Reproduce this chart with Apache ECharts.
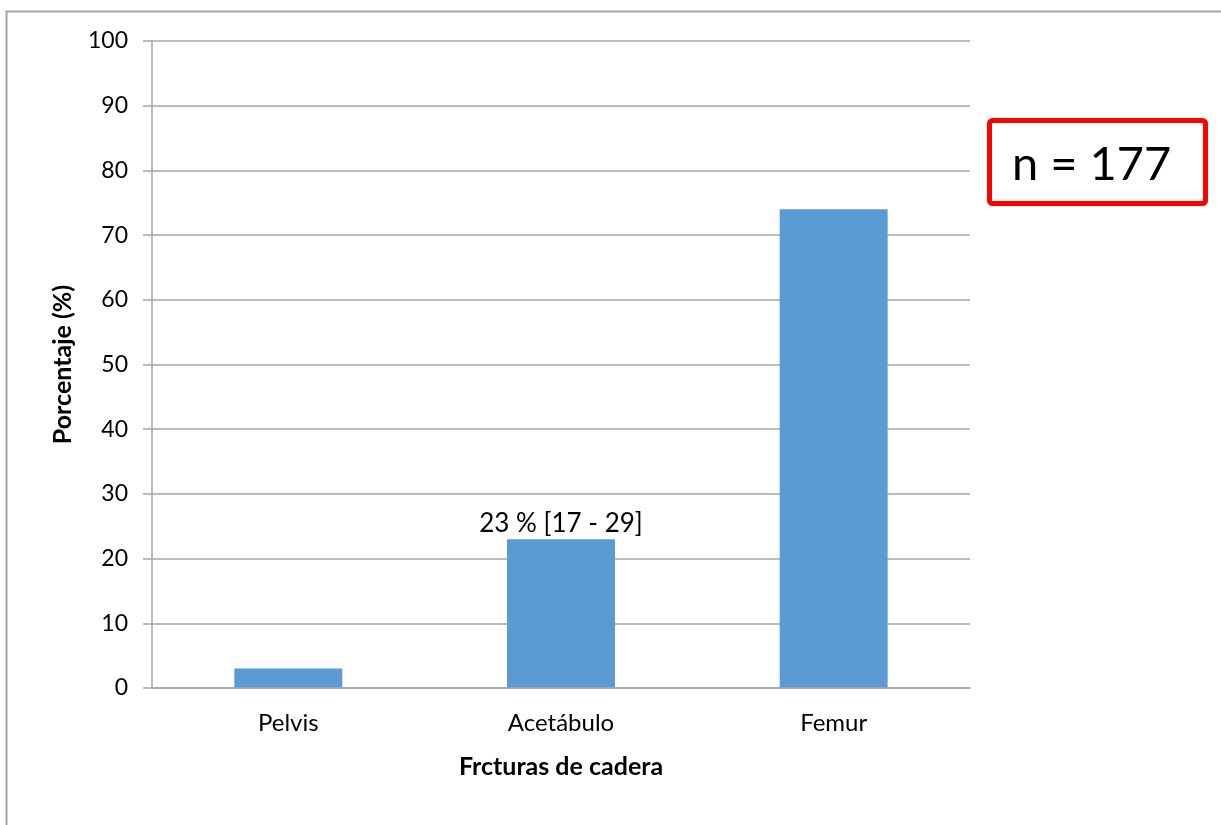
<!DOCTYPE html>
<html>
<head>
<meta charset="utf-8">
<script src="https://cdn.jsdelivr.net/npm/echarts@6/dist/echarts.min.js"></script>
<style>
  html, body { margin: 0; padding: 0; background: #fff; }
  #chart { width: 1221px; height: 825px; }
</style>
</head>
<body>
<div id="chart"></div>
<script>
// datos del grafico
var categorias = ['Pelvis', 'Acetábulo', 'Femur'];
var porcentajes = [3, 23, 74];
var etiquetas = ['', '23 % [17 - 29]', ''];
var yTicks = [0, 10, 20, 30, 40, 50, 60, 70, 80, 90, 100];
var nTotal = 'n = 177';

var FONT = 'Lato, "Open Sans", sans-serif';
var GRIS = '#a6a6a6';

var chart = echarts.init(document.getElementById('chart'));

var serieData = porcentajes.map(function (v, i) {
  var item = { value: v };
  if (etiquetas[i]) {
    item.label = {
      show: true,
      position: 'top',
      distance: 3,
      formatter: etiquetas[i],
      color: '#000',
      fontFamily: FONT,
      fontSize: 26
    };
  }
  return item;
});

var option = {
  backgroundColor: '#fff',
  animation: false,
  grid: { left: 152, right: 251, top: 41, bottom: 137, containLabel: false },
  graphic: [
    // marco exterior
    {
      type: 'rect',
      shape: { x: 6.5, y: 11.5, width: 1300, height: 900 },
      style: { fill: 'none', stroke: '#a6a6a6', lineWidth: 2 }
    },
    // recuadro rojo n
    {
      type: 'rect',
      shape: { x: 989.5, y: 120.5, width: 216, height: 83, r: 3 },
      style: { fill: '#fff', stroke: '#ff0000', lineWidth: 5 }
    },
    {
      type: 'text',
      left: 1012,
      top: 141,
      style: { text: nTotal, fill: '#000', font: '47px ' + FONT }
    }
  ],
  xAxis: {
    type: 'category',
    data: categorias,
    name: 'Frcturas de cadera',
    nameLocation: 'middle',
    nameGap: 66,
    nameTextStyle: { color: '#000', fontFamily: FONT, fontSize: 25, fontWeight: 'bold' },
    axisLine: { lineStyle: { color: GRIS, width: 1.5 } },
    axisTick: { show: false },
    axisLabel: { color: '#000', fontFamily: FONT, fontSize: 24, margin: 23 },
    z: 3
  },
  yAxis: {
    type: 'value',
    min: yTicks[0],
    max: yTicks[yTicks.length - 1],
    interval: 10,
    name: 'Porcentaje (%)',
    nameLocation: 'middle',
    nameGap: 77,
    nameRotate: 90,
    nameTextStyle: { color: '#000', fontFamily: FONT, fontSize: 25, fontWeight: 'bold' },
    axisLine: { show: true, lineStyle: { color: GRIS, width: 1.5 } },
    axisTick: { show: true, length: 9, lineStyle: { color: GRIS, width: 1.5 } },
    axisLabel: { color: '#000', fontFamily: FONT, fontSize: 23, margin: 24 },
    splitLine: { lineStyle: { color: GRIS, width: 1.5 } }
  },
  series: [{
    type: 'bar',
    data: serieData,
    barWidth: '39.6%',
    itemStyle: { color: '#5b9bd5' }
  }]
};

chart.setOption(option);
</script>
</body>
</html>
